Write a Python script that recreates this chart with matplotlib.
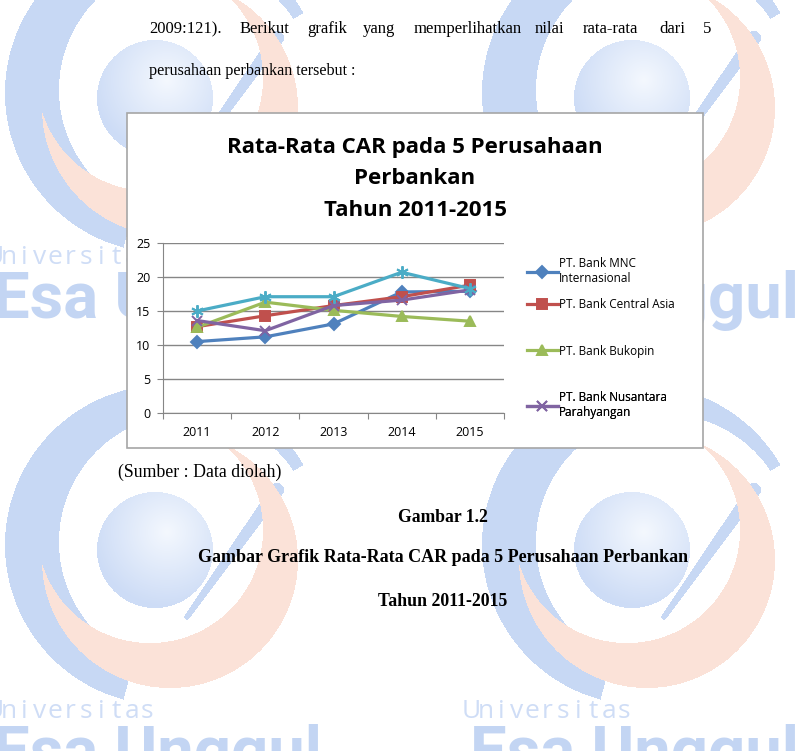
import numpy as np
import matplotlib
matplotlib.use("Agg")
from matplotlib import pyplot as plt
from matplotlib.patches import Rectangle

# data
years = ["2011", "2012", "2013", "2014", "2015"]
mnc = [10.5, 11.2, 13.1, 17.8, 17.9]
bca = [12.7, 14.3, 15.8, 17.1, 18.8]
bukopin = [12.6, 16.3, 15.1, 14.2, 13.5]
nusantara = [13.6, 12.1, 15.8, 16.6, 18.1]
fifth = [15.0, 17.1, 17.1, 20.7, 18.3]
labels = ["PT. Bank MNC\nInternasional", "PT. Bank Central Asia",
          "PT. Bank Bukopin", "PT. Bank Nusantara\nParahyangan"]
yticks = [0, 5, 10, 15, 20, 25]

W, H = 795, 751
fig = plt.figure(figsize=(W / 100, H / 100), dpi=100)
fig.patch.set_facecolor("white")

# background layer in pixel coords
bg = fig.add_axes([0, 0, 1, 1])
bg.set_xlim(0, W)
bg.set_ylim(H, 0)
bg.axis("off")

# watermark logo, painted as a raster
yy, xx = np.mgrid[0:H, 0:W] + 0.5
img = np.ones((H, W, 3))
blue = np.array([199, 216, 244]) / 255
orange = np.array([251, 226, 216]) / 255
s_in = np.array([244, 248, 254]) / 255
s_out = np.array([205, 220, 246]) / 255

for sx in [155, 632]:
    for sy in [98, 550]:
        # blue swoosh
        cx, cy = sx + 10, sy - 5
        ang = np.degrees(np.arctan2(-(yy - cy), xx - cx))
        ring = ((xx - cx) ** 2 + (yy - cy) ** 2 < 160 ** 2) & \
               ((xx - sx - 32) ** 2 + (yy - sy + 8) ** 2 > 128 ** 2) & \
               ~((ang > -105) & (ang < 30))
        img[ring] = blue
        # thin tail next to the ball
        ax_, ay_, bx_, by_ = sx + 122, sy - 60, sx + 32, sy + 67
        t = np.clip(((xx - ax_) * (bx_ - ax_) + (yy - ay_) * (by_ - ay_)) /
                    ((bx_ - ax_) ** 2 + (by_ - ay_) ** 2), 0, 1)
        d = np.hypot(xx - ax_ - t * (bx_ - ax_), yy - ay_ - t * (by_ - ay_))
        img[d < 7 * (1 - 0.6 * t)] = blue
        # orange crescent
        cres = ((xx - sx - 15) ** 2 + (yy - sy - 10) ** 2 < 128 ** 2) & \
               ((xx - sx + 5) ** 2 + (yy - sy + 20) ** 2 > 113 ** 2)
        img[cres] = orange
        # ball with a soft highlight
        r = np.hypot(xx - sx, yy - sy)
        ball = r < 58
        k = np.clip(np.hypot(xx - sx - 12, yy - sy + 18) / 75, 0, 1)[..., None]
        mix = s_in * (1 - k) + s_out * k
        img[ball] = mix[ball]

bg.imshow(img, extent=(0, W, H, 0), zorder=0, interpolation="bilinear")

for tx in [-12, 465]:
    for ty in [257, 711]:
        for i, ch in enumerate("Universitas"):
            bg.text(tx + 6 + i * 15.3, ty, ch, fontsize=19, color="#cfddf6", family="Open Sans",
                    ha="center", va="center", zorder=1)
        bg.text(tx + 5, ty + 13, "Esa Unggul", fontsize=47, color="#c3d5f3",
                family="Roboto", fontweight="bold", ha="left", va="top", zorder=1)

# page text
serif = "Liberation Serif"
words = ["2009:121).", "Berikut", "grafik", "yang", "memperlihatkan", "nilai", "rata-rata", "dari", "5"]
word_x = [149, 240, 307, 363, 414, 535, 583, 659, 703]
for wx, wd in zip(word_x, words):
    bg.text(wx, 29, wd, fontsize=12, family=serif, va="center", ha="left", zorder=2)
bg.text(149, 71, "perusahaan perbankan tersebut :", fontsize=11.6, family=serif,
        va="center", ha="left", zorder=2)

bg.text(118, 472, "(Sumber : Data diolah)", fontsize=12.8, family=serif, va="center", ha="left", zorder=2)
bg.text(443, 518, "Gambar 1.2", fontsize=12.7, family=serif, fontweight="bold",
        va="center", ha="center", zorder=2)
bg.text(443, 558, "Gambar Grafik Rata-Rata CAR pada 5 Perusahaan Perbankan", fontsize=13,
        family=serif, fontweight="bold", va="center", ha="center", zorder=2)
bg.text(443, 602, "Tahun 2011-2015", fontsize=12.8, family=serif, fontweight="bold",
        va="center", ha="center", zorder=2)

# chart box
bg.add_patch(Rectangle((127, 113), 576, 335, facecolor="white", edgecolor="#a6a6a6", lw=1.2, zorder=3))
for ty, line in zip([147, 178, 210], ["Rata-Rata CAR pada 5 Perusahaan", "Perbankan", "Tahun 2011-2015"]):
    bg.text(415, ty, line, fontsize=16, family="Open Sans", fontweight="bold",
            ha="center", va="center", zorder=4)

# plot area
px0, px1, py0, py1 = 163, 504, 243, 413
ax = fig.add_axes([px0 / W, 1 - py1 / H, (px1 - px0) / W, (py1 - py0) / H])
ax.patch.set_alpha(0)
x = np.arange(len(years))
series = [mnc, bca, bukopin, nusantara, fifth]
colors = ["#4f81bd", "#c0504d", "#9bbb59", "#8064a2", "#4bacc6"]
markers = ["D", "s", "^", "x", (6, 2, 0)]
msizes = [6, 7.5, 7.5, 7, 9]
handles = []
for s, c, m, ms in zip(series, colors, markers, msizes):
    h, = ax.plot(x, s, color=c, marker=m, markersize=ms, lw=2.3, mew=1.4, zorder=3)
    handles.append(h)

ax.set_xlim(-0.5, 4.5)
ax.set_ylim(0, 25)
ax.set_yticks(yticks)
ax.yaxis.grid(True, color="#868686", lw=1)
ax.set_axisbelow(True)
ax.set_xticks(np.arange(-0.5, 5, 1))
ax.set_xticklabels([])
ax.set_xticks(x, minor=True)
ax.set_xticklabels(years, minor=True)
ax.tick_params(axis="x", which="minor", length=0, pad=9, labelsize=9)
ax.tick_params(axis="x", which="major", length=4, color="#868686", direction="out")
ax.tick_params(axis="y", length=4, color="#868686", labelsize=9, pad=5)
for sp in ["top", "right"]:
    ax.spines[sp].set_visible(False)
for sp in ["left", "bottom"]:
    ax.spines[sp].set_color("#868686")
for lab in ax.get_xticklabels(minor=True) + ax.get_yticklabels():
    lab.set_family("Open Sans")

# legend, one entry per slot like the original
leg_y = [271, 305, 351, 405]
for h, lab, ly in zip(handles[:4], labels, leg_y):
    leg = ax.legend([h], [lab], loc="center left", bbox_to_anchor=(527, ly),
                    bbox_transform=bg.transData, frameon=False, handlelength=2.6,
                    handletextpad=0.1, borderaxespad=0, borderpad=0,
                    prop={"family": "Open Sans", "size": 8.5})
    ax.add_artist(leg)

fig.savefig("out.png", dpi=100)
